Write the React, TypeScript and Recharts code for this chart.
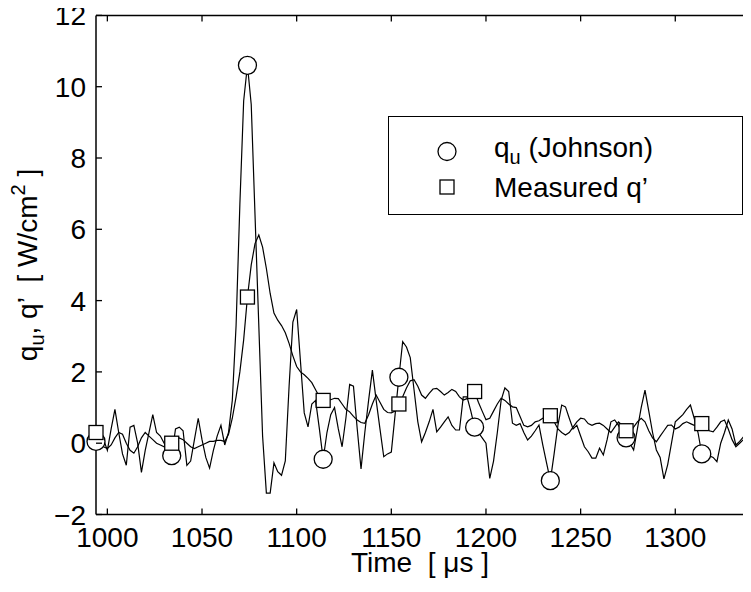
import React from 'react';
import { ComposedChart, Line, XAxis, YAxis, ReferenceLine } from 'recharts';

const TIMES = [
  994, 996, 998, 1000, 1002, 1004, 1006, 1008, 1010, 1012,
  1014, 1016, 1018, 1020, 1022, 1024, 1026, 1028, 1030, 1032,
  1034, 1036, 1038, 1040, 1042, 1044, 1046, 1048, 1050, 1052,
  1054, 1056, 1058, 1060, 1062, 1064, 1066, 1068, 1070, 1072,
  1074, 1076, 1078, 1080, 1082, 1084, 1086, 1088, 1090, 1092,
  1094, 1096, 1098, 1100, 1102, 1104, 1106, 1108, 1110, 1112,
  1114, 1116, 1118, 1120, 1122, 1124, 1126, 1128, 1130, 1132,
  1134, 1136, 1138, 1140, 1142, 1144, 1146, 1148, 1150, 1152,
  1154, 1156, 1158, 1160, 1162, 1164, 1166, 1168, 1170, 1172,
  1174, 1176, 1178, 1180, 1182, 1184, 1186, 1188, 1190, 1192,
  1194, 1196, 1198, 1200, 1202, 1204, 1206, 1208, 1210, 1212,
  1214, 1216, 1218, 1220, 1222, 1224, 1226, 1228, 1230, 1232,
  1234, 1236, 1238, 1240, 1242, 1244, 1246, 1248, 1250, 1252,
  1254, 1256, 1258, 1260, 1262, 1264, 1266, 1268, 1270, 1272,
  1274, 1276, 1278, 1280, 1282, 1284, 1286, 1288, 1290, 1292,
  1294, 1296, 1298, 1300, 1302, 1304, 1306, 1308, 1310, 1312,
  1314, 1316, 1318, 1320, 1322, 1324, 1326, 1328, 1330, 1332,
  1334, 1336, 1338, 1340,
];

const Q_JOHNSON = [
  0.05, 0.25, 0.1, -0.2, 0.4, 0.95, 0.3, -0.3, -0.62, 0.45,
  0.5, 0.0, -0.82, -0.2, 0.3, 0.8, 0.3, 0.2, 0.0, -0.2,
  -0.35, 0.4, 0.45, 0.35, -0.62, -0.5, 0.1, 0.7, 0.1, -0.4,
  -0.7, -0.2, 0.2, 0.5, -0.05, 0.3, 1.2, 3.3, 6.7, 9.6,
  10.6, 9.5, 6.4, 3.3, 0.2, -1.4, -1.4, -0.55, -0.8, -0.9,
  -0.5, 1.6, 3.4, 3.75, 2.3, 0.85, 0.46, 1.1, 1.2, 0.4,
  -0.45, 0.3, 0.8, 1.0, 0.4, -0.1, 0.7, 1.65, 1.6, 0.4,
  -0.72, 0.3, 1.2, 2.05, 1.2, 0.4, -0.38, -0.3, -0.25, 0.8,
  1.85, 2.85, 2.7, 2.4, 1.5, 0.6, 0.04, 0.3, 0.6, 0.95,
  0.32, 0.45, 0.6, 0.74, 0.5, 0.37, 0.37, 1.3, 1.3, 0.9,
  0.45, 0.3, 0.15, 0.0, -0.99, -0.5, 0.3, 1.2, 1.55, 1.45,
  0.56, 0.5, 0.55, 0.3, 0.09, 0.2, 0.35, 0.51, -0.05, -0.55,
  -1.05, -0.3, 0.5, 1.07, 1.02, 0.7, 0.4, 0.5, 0.2, -0.1,
  -0.24, -0.42, -0.42, -0.14, -0.33, 0.1, 0.6, 0.65, 0.5, 0.3,
  0.15, 0.0, -0.19, 0.4, 1.0, 1.49, 0.9, 0.3, -0.19, -0.4,
  -1.0, -0.6, 0.0, 0.6, 0.7, 0.8, 0.95, 1.07, 0.7, 0.3,
  -0.3, -0.2, -0.35, -0.4, -0.52, 0.0, 0.3, 0.65, 0.4, -0.05,
  0.05, 0.18, 0.3, 0.37,
];

const Q_MEASURED = [
  0.3, 0.1, -0.1, -0.15, -0.05, 0.15, 0.3, 0.25, 0.0, -0.2,
  -0.28, -0.1, 0.15, 0.3, 0.2, 0.1, 0.0, -0.05, -0.1, -0.05,
  0.0, 0.05, 0.15, 0.1, 0.0, -0.1, -0.15, -0.1, -0.05, 0.0,
  0.05, 0.05, 0.08, 0.08, 0.05, 0.25, 0.7, 1.3, 2.0, 2.9,
  4.1, 5.0, 5.6, 5.84, 5.5, 4.9, 4.2, 3.65, 3.45, 3.3,
  3.1, 2.8, 2.45, 2.15, 2.0, 1.92, 1.82, 1.7, 1.5, 1.3,
  1.2, 1.2, 1.22, 1.26, 1.25, 1.1, 0.95, 0.88, 0.75, 0.65,
  0.58, 0.56, 0.8, 1.1, 1.35, 1.15, 0.95, 0.86, 0.85, 0.9,
  1.1, 1.3, 1.55, 1.75, 1.78, 1.6, 1.35, 1.26, 1.4, 1.52,
  1.54, 1.45, 1.35, 1.42, 1.51, 1.45, 1.3, 1.21, 1.25, 1.35,
  1.45, 1.15, 0.9, 0.66, 0.7, 0.9, 1.1, 1.26, 1.2, 1.1,
  1.02, 1.0, 0.75, 0.5, 0.46, 0.5, 0.6, 0.63, 0.7, 0.75,
  0.77, 0.6, 0.4, 0.3, 0.23, 0.3, 0.45, 0.6, 0.7, 0.68,
  0.55, 0.5, 0.55, 0.56, 0.5, 0.4, 0.3, 0.45, 0.6, 0.5,
  0.35, 0.3, 0.45, 0.6, 0.7, 0.6, 0.35, 0.15, 0.04, 0.2,
  0.35, 0.5, 0.51, 0.4, 0.45, 0.55, 0.6, 0.55, 0.5, 0.52,
  0.55, 0.45, 0.35, 0.32, 0.45, 0.6, 0.65, 0.4, 0.1, -0.1,
  0.0, 0.1, 0.3, 0.37,
];

const X_TICKS = [1000, 1050, 1100, 1150, 1200, 1250, 1300];
const Y_TICKS = [-2, 0, 2, 4, 6, 8, 10, 12];
const X_DOMAIN = [994, 1340];
const Y_DOMAIN = [-2, 12];
const MARKER_EVERY = 20;
const X_LABEL = 'Time  [ \u03bcs ]';
const LEGEND_MAIN = ['q', 'Measured q\u2019'];

const data = TIMES.map((t, i) => ({ t, qu: Q_JOHNSON[i], qm: Q_MEASURED[i] }));

const W = 743;
const H = 584;
const M_TOP = 7.4;
const X_AXIS_H = 77.5;
const Y_AXIS_W = 88;
const PT = M_TOP;
const PB = H - X_AXIS_H;
const PL = Y_AXIS_W;
const FONT = '"Liberation Sans", Arial, Helvetica, sans-serif';
const FS = 28;
const TICK_LEN = 6;

const fmt = (v: number) => String(v).replace('-', '\u2212');

const XTick = (p: any) => {
  const { x, y, payload } = p;
  return (
    <g>
      <line x1={x} x2={x} y1={PB} y2={PB - TICK_LEN} stroke="#000" strokeWidth={1.3} />
      <line x1={x} x2={x} y1={PT} y2={PT + TICK_LEN} stroke="#000" strokeWidth={1.3} />
      <text x={x} y={y} dy="0.72em" textAnchor="middle" fontFamily={FONT} fontSize={FS} fill="#000">
        {fmt(payload.value)}
      </text>
    </g>
  );
};

const YTick = (p: any) => {
  const { x, y, payload } = p;
  return (
    <g>
      <line x1={PL} x2={PL + TICK_LEN} y1={y} y2={y} stroke="#000" strokeWidth={1.3} />
      <text x={x} y={y} dy="0.36em" textAnchor="end" fontFamily={FONT} fontSize={FS} fill="#000">
        {fmt(payload.value)}
      </text>
    </g>
  );
};

const circleDot = (p: any) =>
  p.index % MARKER_EVERY === 0 ? (
    <circle key={`c${p.index}`} cx={p.cx} cy={p.cy} r={9} fill="#fff" stroke="#000" strokeWidth={1.3} />
  ) : (
    <g key={`c${p.index}`} />
  );

const squareDot = (p: any) =>
  p.index % MARKER_EVERY === 0 ? (
    <rect key={`s${p.index}`} x={p.cx - 7} y={p.cy - 7} width={14} height={14} fill="#fff" stroke="#000" strokeWidth={1.3} />
  ) : (
    <g key={`s${p.index}`} />
  );

const YLabel = () => (
  <text
    transform={`translate(29, ${(PT + PB) / 2}) rotate(-90)`}
    textAnchor="middle"
    fontFamily={FONT}
    fontSize={FS}
    fill="#000"
    style={{ whiteSpace: 'pre' }}
  >
    <tspan>q</tspan>
    <tspan fontSize={20} dy={7}>u</tspan>
    <tspan dy={-7}>, q{'\u2019'}  [ W/cm</tspan>
    <tspan fontSize={20} dy={-12}>2</tspan>
    <tspan dy={12}> ]</tspan>
  </text>
);

const XLabel = () => (
  <text x={412} y={564} textAnchor="middle" fontFamily={FONT} fontSize={FS} fill="#000" style={{ whiteSpace: 'pre' }}>
    {X_LABEL}
  </text>
);

const LegendBox = () => (
  <div
    style={{
      position: 'absolute',
      left: 379.7,
      top: 107.7,
      width: 355,
      height: 99.5,
      border: '1.5px solid #000',
      boxSizing: 'border-box',
      background: '#fff',
    }}
  >
    <svg width={352} height={97} style={{ position: 'absolute', left: 0, top: 0 }}>
      <circle cx={58} cy={34.5} r={9} fill="#fff" stroke="#000" strokeWidth={1.3} />
      <rect x={51} y={63} width={14} height={14} fill="#fff" stroke="#000" strokeWidth={1.3} />
      <text x={105} y={39.5} fontFamily={FONT} fontSize={FS} fill="#000" style={{ whiteSpace: 'pre' }}>
        <tspan>{LEGEND_MAIN[0]}</tspan>
        <tspan fontSize={20} dy={7}>u</tspan>
        <tspan dy={-7}> (Johnson)</tspan>
      </text>
      <text x={105} y={79.5} fontFamily={FONT} fontSize={FS} fill="#000">
        {LEGEND_MAIN[1]}
      </text>
    </svg>
  </div>
);

export default function App() {
  return (
    <div style={{ position: 'relative', width: W, height: H }}>
      <ComposedChart width={W} height={H} data={data} margin={{ top: M_TOP, right: 0, bottom: 0, left: 0 }}>
        <XAxis
          dataKey="t"
          type="number"
          domain={X_DOMAIN}
          ticks={X_TICKS}
          height={X_AXIS_H}
          axisLine={{ stroke: '#000', strokeWidth: 1.5 }}
          tickLine={false}
          tickSize={0}
          tickMargin={12}
          tick={XTick}
          interval={0}
          label={{ content: XLabel }}
        />
        <YAxis
          type="number"
          domain={Y_DOMAIN}
          ticks={Y_TICKS}
          width={Y_AXIS_W}
          axisLine={{ stroke: '#000', strokeWidth: 1.5 }}
          tickLine={false}
          tickSize={0}
          tickMargin={10}
          tick={YTick}
          interval={0}
          label={{ content: YLabel }}
        />
        <ReferenceLine y={12} stroke="#000" strokeWidth={1.5} />
        <Line dataKey="qu" type="linear" stroke="#000" strokeWidth={1.2} dot={false} activeDot={false} isAnimationActive={false} legendType="none" />
        <Line dataKey="qm" type="linear" stroke="#000" strokeWidth={1.2} dot={false} activeDot={false} isAnimationActive={false} legendType="none" />
        <Line dataKey="qu" type="linear" stroke="none" dot={circleDot} activeDot={false} isAnimationActive={false} legendType="none" />
        <Line dataKey="qm" type="linear" stroke="none" dot={squareDot} activeDot={false} isAnimationActive={false} legendType="none" />
      </ComposedChart>
      <LegendBox />
    </div>
  );
}
